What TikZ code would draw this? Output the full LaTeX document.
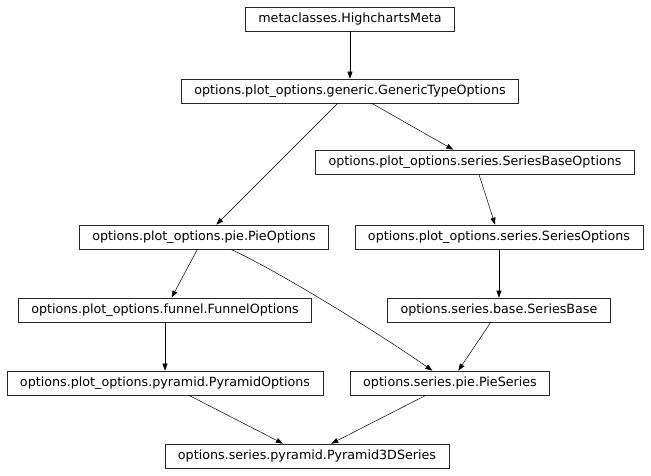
\documentclass[tikz,border=0pt]{standalone}
\usepackage{fontspec}
\setmainfont{DejaVu Sans}
\usepackage{tikz}
\usetikzlibrary{positioning,calc,arrows.meta}
\definecolor{BoxLine}{RGB}{40,40,40}

\tikzset{
  cls/.style={draw=BoxLine, line width=0.7pt, font=\fontsize{12.7}{15}\selectfont,
    minimum height=24pt, inner xsep=13pt, inner ysep=0pt},
  inh/.style={draw=black, line width=0.5pt, -{Triangle[length=7pt,width=5pt]}}
}

\begin{document}
\begin{tikzpicture}[x=1pt,y=-1pt]
    \useasboundingbox (0,0) rectangle (651,476);
    % classes
    \node[cls] (meta) at (350,19) {metaclasses.HighchartsMeta};
    \node[cls] (generic) at (350,91) {options.plot\_options.generic.GenericTypeOptions};
    \node[cls] (sbaseopt) at (475,162) {options.plot\_options.series.SeriesBaseOptions};
    \node[cls] (pieopt) at (204,237) {options.plot\_options.pie.PieOptions};
    \node[cls] (seriesopt) at (499,237) {options.plot\_options.series.SeriesOptions};
    \node[cls] (funnelopt) at (165,310) {options.plot\_options.funnel.FunnelOptions};
    \node[cls] (seriesbase) at (499,310) {options.series.base.SeriesBase};
    \node[cls] (pyramidopt) at (165,383) {options.plot\_options.pyramid.PyramidOptions};
    \node[cls] (pieseries) at (450,383) {options.series.pie.PieSeries};
    \node[cls] (pyr3d) at (307,456) {options.series.pyramid.Pyramid3DSeries};
    % inheritance
    \draw[inh] (meta) -- (generic);
    \draw[inh] (generic) -- (sbaseopt);
    \draw[inh] (generic) -- (pieopt);
    \draw[inh] (sbaseopt) -- (seriesopt);
    \draw[inh] (pieopt) -- (funnelopt);
    \draw[inh] (pieopt) .. controls (280,272) and (380,334) .. (pieseries);
    \draw[inh] (seriesopt) -- (seriesbase);
    \draw[inh] (funnelopt) -- (pyramidopt);
    \draw[inh] (seriesbase) -- (pieseries);
    \draw[inh] (pyramidopt) -- (pyr3d);
    \draw[inh] (pieseries) -- (pyr3d);
  \end{tikzpicture}
\end{document}
